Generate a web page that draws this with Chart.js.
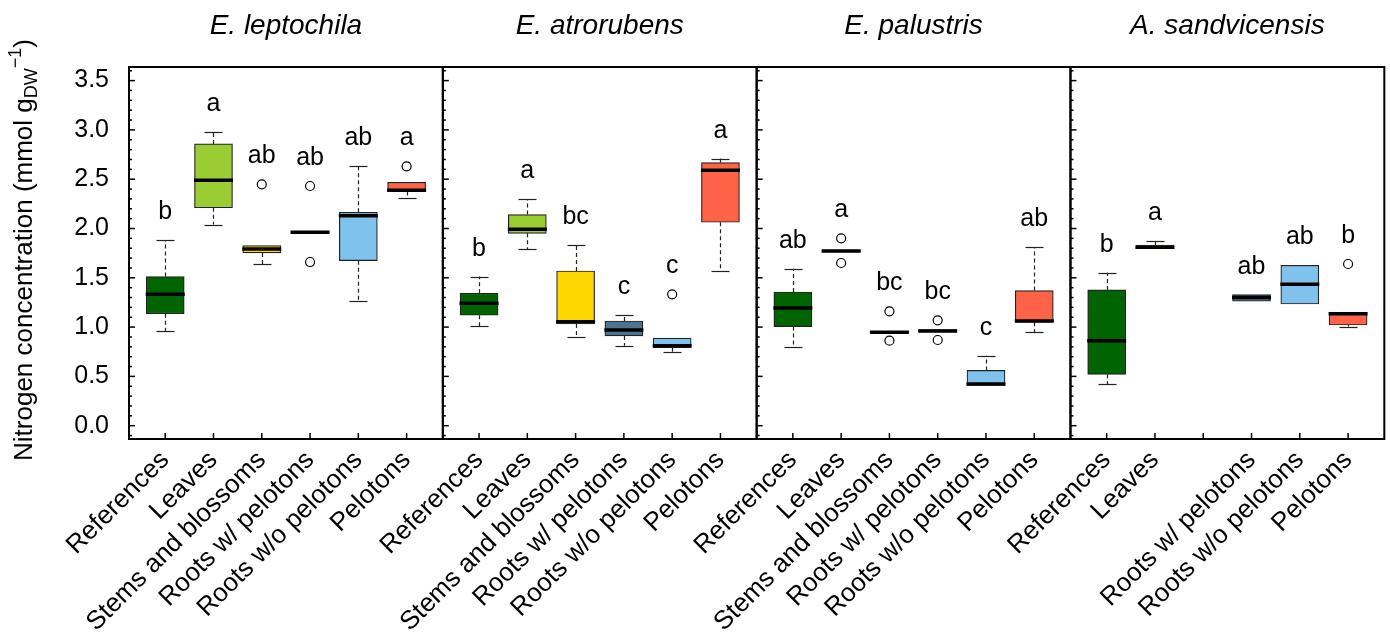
<!DOCTYPE html>
<html>
<head>
<meta charset="utf-8">
<script src="https://cdn.jsdelivr.net/npm/chart.js@4.4.1/dist/chart.umd.min.js"></script>
<style>
  html, body { margin: 0; padding: 0; background: #fff; }
  #wrap { width: 1390px; height: 633px; }
</style>
</head>
<body>
<div id="wrap"><canvas id="chart"></canvas></div>
<script>
const species = ['E. leptochila', 'E. atrorubens', 'E. palustris', 'A. sandvicensis'];
const tissues = ['References', 'Leaves', 'Stems and blossoms', 'Roots w/ pelotons', 'Roots w/o pelotons', 'Pelotons'];
const tissueColors = ['#006400', '#9acd32', '#ffd700', '#4d7391', '#80c2ee', '#ff6347'];

// box stats, one row per species, one column per tissue (null = not sampled)
const whiskerLow = [
  [0.96, 2.04, 1.64, 1.96, 1.26, 2.31],
  [1.01, 1.79, 0.90, 0.81, 0.75, 1.57],
  [0.80, 1.77, 0.94, 0.95, 0.405, 0.95],
  [0.42, 1.796, null, 1.262, 1.234, 1.005],
];
const boxLow = [
  [1.136, 2.21, 1.752, 1.955, 1.674, 2.375],
  [1.12, 1.951, 1.031, 0.91, 0.791, 2.063],
  [1.005, 1.762, 0.94, 0.95, 0.409, 1.05],
  [0.521, 1.796, null, 1.262, 1.234, 1.021],
];
const medians = [
  [1.332, 2.489, 1.792, 1.961, 2.13, 2.387],
  [1.241, 1.992, 1.055, 0.971, 0.812, 2.591],
  [1.194, 1.772, 0.947, 0.96, 0.423, 1.062],
  [0.862, 1.809, null, 1.299, 1.434, 1.136],
];
const boxHigh = [
  [1.512, 2.858, 1.826, 1.967, 2.164, 2.469],
  [1.343, 2.141, 1.569, 1.062, 0.889, 2.668],
  [1.356, 1.782, 0.955, 0.975, 0.561, 1.37],
  [1.377, 1.833, null, 1.329, 1.627, 1.146],
];
const whiskerHigh = [
  [1.884, 2.979, 1.826, 1.967, 2.631, 2.469],
  [1.512, 2.30, 1.829, 1.123, 0.889, 2.709],
  [1.593, 1.782, 0.955, 0.975, 0.71, 1.809],
  [1.552, 1.87, null, 1.329, 1.627, 1.146],
];
// outliers as [species, tissue, value]
const outliers = [
  [0, 2, 2.448], [0, 3, 2.431], [0, 3, 1.66], [0, 5, 2.631],
  [1, 4, 1.332],
  [2, 1, 1.90], [2, 1, 1.65], [2, 2, 1.16], [2, 2, 0.862], [2, 3, 1.069], [2, 3, 0.869],
  [3, 5, 1.64],
];
const letters = [
  ['b', 'a', 'ab', 'ab', 'ab', 'a'],
  ['b', 'a', 'bc', 'c', 'c', 'a'],
  ['ab', 'a', 'bc', 'bc', 'c', 'ab'],
  ['b', 'a', '', 'ab', 'ab', 'b'],
];
const yTicks = [0, 0.5, 1, 1.5, 2, 2.5, 3, 3.5];

const family = '"Liberation Sans", Arial, Helvetica, sans-serif';
Chart.defaults.font.family = family;
Chart.defaults.color = '#000';

// each species gets 6.5 units of x: tissues at 1..6, panel edges at .25 / 6.75
const xPos = (s, t) => s * 6.5 + t + 1;

const boxData = [], boxColors = [], outlierData = [], tickValues = [], tickLabels = [];
species.forEach((sp, s) => {
  tissues.forEach((name, t) => {
    tickValues.push(xPos(s, t));
    tickLabels.push(medians[s][t] === null ? '' : name);
    if (medians[s][t] === null) return;
    boxData.push({ x: xPos(s, t), y: [boxLow[s][t], boxHigh[s][t]], s: s, t: t });
    boxColors.push(tissueColors[t]);
  });
});
outliers.forEach(([s, t, v]) => outlierData.push({ x: xPos(s, t), y: v }));

const boxExtras = {
  id: 'boxExtras',
  beforeDatasetsDraw(chart) {
    const { ctx, scales: { x, y } } = chart;
    ctx.save();
    ctx.strokeStyle = '#222';
    ctx.lineWidth = 1.2;
    boxData.forEach(d => {
      const px = Math.round(x.getPixelForValue(d.x)) + 0.5;
      const lo = whiskerLow[d.s][d.t], hi = whiskerHigh[d.s][d.t];
      const segs = [[boxHigh[d.s][d.t], hi], [boxLow[d.s][d.t], lo]];
      segs.forEach(([from, to]) => {
        if (Math.abs(to - from) < 0.005) return;
        ctx.setLineDash([4, 3]);
        ctx.beginPath();
        ctx.moveTo(px, y.getPixelForValue(from));
        ctx.lineTo(px, y.getPixelForValue(to));
        ctx.stroke();
        ctx.setLineDash([]);
        const py = Math.round(y.getPixelForValue(to)) + 0.5;
        ctx.beginPath();
        ctx.moveTo(px - 9, py);
        ctx.lineTo(px + 9, py);
        ctx.stroke();
      });
    });
    ctx.restore();
  },
  afterDatasetsDraw(chart) {
    const { ctx, scales: { x, y } } = chart;
    ctx.save();
    // medians
    ctx.strokeStyle = '#000';
    ctx.lineWidth = 3.5;
    boxData.forEach(d => {
      const px = x.getPixelForValue(d.x);
      const py = y.getPixelForValue(medians[d.s][d.t]);
      ctx.beginPath();
      ctx.moveTo(px - 19.5, py);
      ctx.lineTo(px + 19.5, py);
      ctx.stroke();
    });
    // significance letters above the highest point
    ctx.fillStyle = '#000';
    ctx.font = '25px ' + family;
    ctx.textAlign = 'center';
    ctx.textBaseline = 'alphabetic';
    boxData.forEach(d => {
      let top = whiskerHigh[d.s][d.t];
      outliers.forEach(([s, t, v]) => { if (s === d.s && t === d.t) top = Math.max(top, v); });
      ctx.fillText(letters[d.s][d.t], x.getPixelForValue(d.x), y.getPixelForValue(top) - 21);
    });
    ctx.restore();
  },
  afterDraw(chart) {
    const { ctx, chartArea: area, scales: { x, y } } = chart;
    ctx.save();
    ctx.strokeStyle = '#000';
    species.forEach((name, s) => {
      const left = x.getPixelForValue(s * 6.5 + 0.25);
      const right = x.getPixelForValue(s * 6.5 + 6.75);
      // inward y ticks on the left edge of every panel
      ctx.lineWidth = 1.5;
      for (let k = -1; k <= 36; k++) {
        const py = y.getPixelForValue(k / 10);
        if (py < area.top + 2 || py > area.bottom - 2) continue;
        ctx.beginPath();
        ctx.moveTo(left, py);
        ctx.lineTo(left + (k % 5 === 0 ? 6 : 3), py);
        ctx.stroke();
      }
      ctx.lineWidth = 2;
      ctx.strokeRect(left, area.top, right - left, area.bottom - area.top);
      // panel title
      ctx.fillStyle = '#000';
      ctx.font = 'italic 28px ' + family;
      ctx.textAlign = 'center';
      ctx.textBaseline = 'alphabetic';
      ctx.fillText(name, (left + right) / 2, 34);
    });
    // x ticks pointing up
    ctx.lineWidth = 1.5;
    tickValues.forEach(v => {
      const px = x.getPixelForValue(v);
      ctx.beginPath();
      ctx.moveTo(px, area.bottom);
      ctx.lineTo(px, area.bottom - 6);
      ctx.stroke();
    });
    // y axis title with subscript and superscript
    const big = '26px ' + family, small = '18px ' + family;
    const parts = [
      { t: 'Nitrogen concentration (mmol g', f: big, dy: 0 },
      { t: 'DW', f: small, dy: 5 },
      { t: '\u22121', f: small, dy: -11 },
      { t: ')', f: big, dy: 0 },
    ];
    let total = 0;
    parts.forEach(p => { ctx.font = p.f; p.w = ctx.measureText(p.t).width; total += p.w; });
    ctx.translate(32, (area.top + area.bottom) / 2 - 3);
    ctx.rotate(-Math.PI / 2);
    ctx.textAlign = 'left';
    let cx = -total / 2;
    parts.forEach(p => {
      ctx.font = p.f;
      ctx.fillText(p.t, cx, p.dy);
      cx += p.w;
    });
    ctx.restore();
  }
};

new Chart(document.getElementById('chart'), {
  type: 'bar',
  data: {
    datasets: [
      {
        type: 'scatter',
        data: outlierData,
        pointRadius: 4.5,
        pointBackgroundColor: '#fff',
        pointBorderColor: '#000',
        pointBorderWidth: 1.2,
        order: 0,
      },
      {
        data: boxData,
        backgroundColor: boxColors,
        borderColor: '#222',
        borderWidth: 1.2,
        borderSkipped: false,
        barThickness: 38,
        order: 1,
      },
    ],
  },
  options: {
    responsive: true,
    maintainAspectRatio: false,
    animation: false,
    events: [],
    layout: { padding: { top: 67, right: 4, left: 0, bottom: 0 } },
    plugins: { legend: { display: false }, tooltip: { enabled: false } },
    scales: {
      x: {
        type: 'linear',
        min: 0.25,
        max: 26.25,
        offset: false,
        grid: { display: false, drawTicks: false },
        border: { display: false },
        afterBuildTicks: s => { s.ticks = tickValues.map(v => ({ value: v })); },
        afterFit: s => { s.height = 194; s.paddingLeft = 0; s.paddingRight = 0; },
        ticks: {
          autoSkip: false,
          minRotation: 45,
          maxRotation: 45,
          padding: 6,
          font: { size: 26 },
          callback: (v, i) => tickLabels[i],
        },
      },
      y: {
        min: -0.135,
        max: 3.638,
        grid: { display: false, drawTicks: false },
        border: { display: false },
        afterBuildTicks: s => { s.ticks = yTicks.map(v => ({ value: v })); },
        afterFit: s => { s.width = 129; },
        ticks: {
          padding: 20,
          font: { size: 25 },
          callback: v => v.toFixed(1),
        },
      },
    },
  },
  plugins: [boxExtras],
});
</script>
</body>
</html>
